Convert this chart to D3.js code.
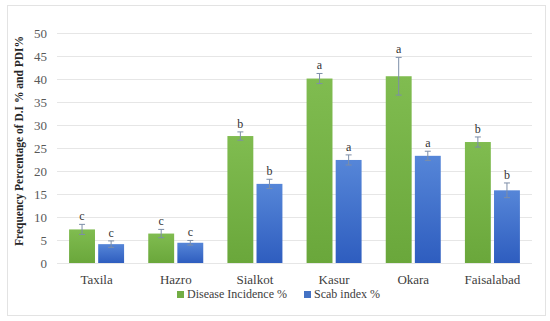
<!DOCTYPE html>
<html>
<head>
<meta charset="utf-8">
<script src="https://cdn.jsdelivr.net/npm/d3@7"></script>
<style>
  body { margin: 0; background: #fff; }
  svg text { font-family: "Liberation Serif", "DejaVu Serif", serif; }
</style>
</head>
<body>
<svg id="chart" width="550" height="321"></svg>
<script>
// Data
var locations = ['Taxila', 'Hazro', 'Sialkot', 'Kasur', 'Okara', 'Faisalabad'];
var seriesNames = ['Disease Incidence %', 'Scab index %'];
var diseaseIncidence = [7.3, 6.4, 27.6, 40.1, 40.6, 26.3];
var diseaseErr = [1.1, 0.9, 0.9, 1.1, 4.1, 1.1];
var diseaseLetters = ['c', 'c', 'b', 'a', 'a', 'b'];
var scabIndex = [4.1, 4.4, 17.2, 22.4, 23.3, 15.8];
var scabErr = [0.7, 0.5, 1.0, 1.1, 1.0, 1.6];
var scabLetters = ['c', 'c', 'b', 'a', 'a', 'b'];
var yTicks = [0, 5, 10, 15, 20, 25, 30, 35, 40, 45, 50];

var FONT = '"Liberation Serif", "DejaVu Serif", serif';

// Layout
var svg = d3.select('#chart');
var margin = {top: 33, left: 57, right: 18, bottom: 58};
var w = 550 - margin.left - margin.right,
    h = 321 - margin.top - margin.bottom;

// frame
svg.append('rect')
  .attr('x', 7.5).attr('y', 5.5)
  .attr('width', 538).attr('height', 310)
  .attr('fill', '#fff')
  .attr('stroke', '#e3e3e3');

var defs = svg.append('defs');
function grad(id, top, bottom) {
  var g = defs.append('linearGradient').attr('id', id)
    .attr('x1', 0).attr('y1', 0).attr('x2', 0).attr('y2', 1);
  g.append('stop').attr('offset', '0%').attr('stop-color', top);
  g.append('stop').attr('offset', '100%').attr('stop-color', bottom);
}
grad('gGreen', '#80bc50', '#6aa73b');
grad('gBlue', '#5686d8', '#2e5dbf');
var fills = ['url(#gGreen)', 'url(#gBlue)'];
var legendColors = ['#72ad44', '#4472c4'];

var g = svg.append('g').attr('transform', 'translate(' + margin.left + ',' + margin.top + ')');

var x0 = d3.scaleBand().domain(locations).range([0, w]);
var x1 = d3.scaleBand().domain(seriesNames).range([0, 55]).paddingInner(0.11);
var y = d3.scaleLinear().domain([0, 50]).range([h, 0]);

// gridlines
g.selectAll('.grid').data(yTicks).enter().append('line')
  .attr('x1', 0).attr('x2', w)
  .attr('y1', function (d) { return Math.round(y(d)) + 0.5; })
  .attr('y2', function (d) { return Math.round(y(d)) + 0.5; })
  .attr('stroke', '#e6e6e6');

// y axis
var yAxis = g.append('g')
  .call(d3.axisLeft(y).tickValues(yTicks).tickSize(0).tickPadding(10))
  .attr('font-family', FONT).attr('font-size', 13);
yAxis.select('.domain').remove();
yAxis.selectAll('text').attr('fill', '#595959');

// x axis labels
var xAxis = g.append('g').attr('transform', 'translate(0,' + h + ')')
  .call(d3.axisBottom(x0).tickSize(0).tickPadding(12))
  .attr('font-family', FONT).attr('font-size', 13);
xAxis.select('.domain').remove();
xAxis.selectAll('text').attr('fill', '#404040');

var series = [
  {name: seriesNames[0], vals: diseaseIncidence, err: diseaseErr, letters: diseaseLetters},
  {name: seriesNames[1], vals: scabIndex, err: scabErr, letters: scabLetters}
];

series.forEach(function (s, si) {
  var grp = g.append('g');
  var off = function (i) { return x0(locations[i]) + (x0.bandwidth() - 55) / 2 + x1(s.name); };
  grp.selectAll('rect').data(s.vals).enter().append('rect')
    .attr('x', function (d, i) { return off(i); })
    .attr('y', function (d) { return y(d); })
    .attr('width', x1.bandwidth())
    .attr('height', function (d) { return h - y(d); })
    .attr('fill', fills[si]);

  // error bars + significance letters
  s.vals.forEach(function (v, i) {
    var cx = off(i) + x1.bandwidth() / 2;
    var e = s.err[i];
    var eg = grp.append('g').attr('stroke', '#7d8ea8').attr('stroke-width', 1);
    eg.append('line').attr('x1', cx).attr('x2', cx).attr('y1', y(v + e)).attr('y2', y(v - e));
    eg.append('line').attr('x1', cx - 3).attr('x2', cx + 3).attr('y1', y(v + e)).attr('y2', y(v + e));
    eg.append('line').attr('x1', cx - 3).attr('x2', cx + 3).attr('y1', y(v - e)).attr('y2', y(v - e));
    grp.append('text')
      .attr('x', cx).attr('y', y(v + e) - 4)
      .attr('text-anchor', 'middle')
      .attr('fill', '#333')
      .attr('font-family', FONT)
      .attr('font-size', 12)
      .text(s.letters[i]);
  });
});

// y axis title
svg.append('text')
  .attr('transform', 'translate(23,141) rotate(-90)')
  .attr('text-anchor', 'middle')
  .attr('font-weight', 'bold')
  .attr('fill', '#262626')
  .attr('font-family', FONT)
  .attr('font-size', 11.5)
  .text('Frequency Percentage of D.I % and PDI%');

// legend
var legend = svg.append('g').attr('transform', 'translate(177,297)');
var legX = [0, 127];
seriesNames.forEach(function (n, i) {
  legend.append('rect').attr('x', legX[i]).attr('y', -6).attr('width', 7).attr('height', 7)
    .attr('fill', legendColors[i]);
  legend.append('text').attr('x', legX[i] + 10).attr('y', 1)
    .attr('fill', '#404040')
    .attr('font-family', FONT)
    .attr('font-size', 12)
    .text(n);
});
</script>
</body>
</html>
